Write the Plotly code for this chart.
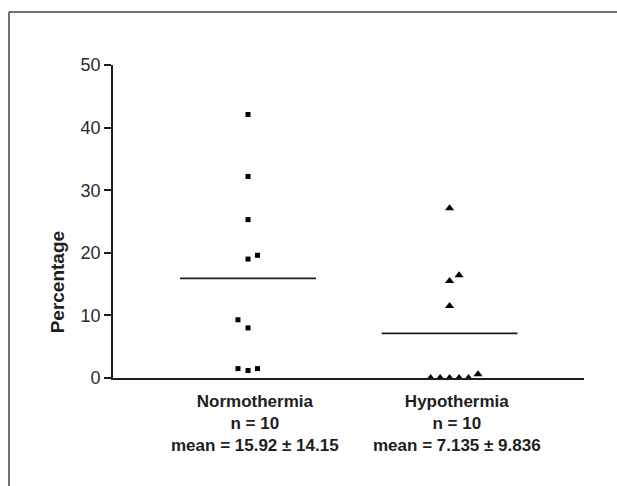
import plotly.graph_objects as go

groups = ["Normothermia", "Hypothermia"]
group_pos = [1, 2]
normo_values = [42.1, 32.2, 25.3, 19.0, 19.6, 9.3, 8.0, 1.5, 1.2, 1.5]
hypo_values = [27.1, 16.4, 15.5, 11.5, 0.0, 0.0, 0.0, 0.0, 0.0, 0.6]
means = [15.92, 7.135]
sds = [14.15, 9.836]
ns = [10, 10]
y_ticks = [0, 10, 20, 30, 40, 50]

# horizontal scatter (beeswarm) offsets, in category units
normo_jitter = [0, 0, 0, 0, 0.047, -0.05, 0, -0.05, 0, 0.047]
hypo_jitter = [0, 0.047, 0, 0, -0.094, -0.047, 0, 0.047, 0.094, 0.141]

FONT = "Liberation Sans, Arial, Helvetica, sans-serif"
INK = "#1e1e1e"

fig = go.Figure()

fig.add_trace(go.Scatter(
    x=[group_pos[0] + j for j in normo_jitter], y=normo_values,
    mode="markers", marker=dict(symbol="square", size=5, color="black"),
    showlegend=False, hoverinfo="y"))
fig.add_trace(go.Scatter(
    x=[group_pos[1] + j for j in hypo_jitter], y=hypo_values,
    mode="markers", marker=dict(symbol="triangle-up", size=8, color="black"),
    showlegend=False, hoverinfo="y"))

half = 0.337
for p, m in zip(group_pos, means):
    fig.add_trace(go.Scatter(
        x=[p - half, p + half], y=[m, m], mode="lines",
        line=dict(color=INK, width=1.6), showlegend=False, hoverinfo="skip"))

for p, g, n, m, s in zip(group_pos, groups, ns, means, sds):
    fig.add_annotation(
        x=p, y=-0.144, xref="x", yref="paper", xshift=7,
        text=f"<b>{g}<br>n = {n}<br>mean = {m:g} ± {s:g}</b>",
        showarrow=False, xanchor="center", yanchor="middle", align="center",
        font=dict(family=FONT, size=17, color=INK))

fig.add_annotation(
    x=-0.118, y=0.307, xref="paper", yref="paper",
    text="<b>Percentage</b>", textangle=-90, showarrow=False,
    xanchor="center", yanchor="middle",
    font=dict(family=FONT, size=19, color=INK))

# outer frame (top and left edges visible)
frame_color = "#444444"
fig.add_shape(type="line", xref="paper", yref="paper",
              x0=-0.2208, x1=1.2, y0=1.169, y1=1.169,
              line=dict(color=frame_color, width=1.5))
fig.add_shape(type="line", xref="paper", yref="paper",
              x0=-0.2208, x1=-0.2208, y0=1.169, y1=-0.4,
              line=dict(color=frame_color, width=1.5))

fig.update_layout(
    width=617, height=486,
    margin=dict(l=113, r=33, t=65, b=108),
    paper_bgcolor="white", plot_bgcolor="white",
    font=dict(family=FONT, color="#333333"),
    xaxis=dict(range=[0.33, 2.667], showgrid=False, zeroline=False,
               showline=True, linecolor=INK, linewidth=1.6,
               showticklabels=False, ticks=""),
    yaxis=dict(range=[0, 50], showgrid=False, zeroline=False,
               showline=True, linecolor=INK, linewidth=1.6,
               tickvals=y_ticks, ticks="outside", ticklen=7,
               tickcolor=INK, tickwidth=1.6,
               tickfont=dict(family=FONT, size=18, color="#2a2a2a")),
)

fig.write_html("out.html",
               config={"displayModeBar": False},
               post_script="document.body.style.margin='0';document.body.style.overflow='hidden';")
